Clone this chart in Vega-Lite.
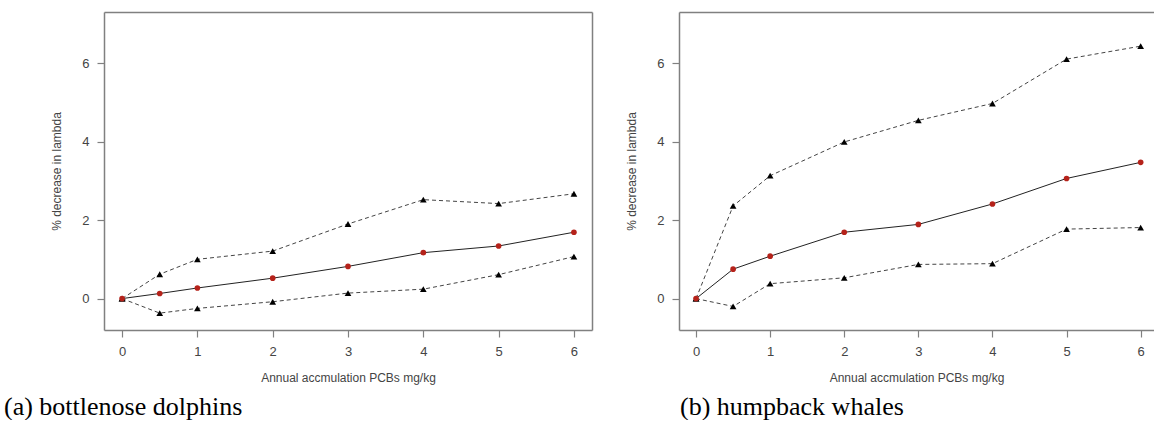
{
  "$schema": "https://vega.github.io/schema/vega-lite/v6.json",
  "background": "white",
  "padding": {"left": 4, "top": 12, "right": 0, "bottom": 0},
  "spacing": 33,
  "datasets": {
    "dolphins": [
      {"x": 0, "series": "mean", "value": 0},
      {"x": 0.5, "series": "mean", "value": 0.13},
      {"x": 1, "series": "mean", "value": 0.27},
      {"x": 2, "series": "mean", "value": 0.52},
      {"x": 3, "series": "mean", "value": 0.82},
      {"x": 4, "series": "mean", "value": 1.17},
      {"x": 5, "series": "mean", "value": 1.34},
      {"x": 6, "series": "mean", "value": 1.69},
      {"x": 0, "series": "upper", "value": 0},
      {"x": 0.5, "series": "upper", "value": 0.62},
      {"x": 1, "series": "upper", "value": 1.0},
      {"x": 2, "series": "upper", "value": 1.21},
      {"x": 3, "series": "upper", "value": 1.9},
      {"x": 4, "series": "upper", "value": 2.52},
      {"x": 5, "series": "upper", "value": 2.42},
      {"x": 6, "series": "upper", "value": 2.67},
      {"x": 0, "series": "lower", "value": 0},
      {"x": 0.5, "series": "lower", "value": -0.37},
      {"x": 1, "series": "lower", "value": -0.25},
      {"x": 2, "series": "lower", "value": -0.08},
      {"x": 3, "series": "lower", "value": 0.14},
      {"x": 4, "series": "lower", "value": 0.24},
      {"x": 5, "series": "lower", "value": 0.61},
      {"x": 6, "series": "lower", "value": 1.07}
    ],
    "whales": [
      {"x": 0, "series": "mean", "value": 0},
      {"x": 0.5, "series": "mean", "value": 0.75},
      {"x": 1, "series": "mean", "value": 1.08},
      {"x": 2, "series": "mean", "value": 1.69},
      {"x": 3, "series": "mean", "value": 1.89},
      {"x": 4, "series": "mean", "value": 2.41},
      {"x": 5, "series": "mean", "value": 3.06},
      {"x": 6, "series": "mean", "value": 3.47},
      {"x": 0, "series": "upper", "value": 0},
      {"x": 0.5, "series": "upper", "value": 2.36},
      {"x": 1, "series": "upper", "value": 3.13},
      {"x": 2, "series": "upper", "value": 3.99},
      {"x": 3, "series": "upper", "value": 4.54},
      {"x": 4, "series": "upper", "value": 4.97},
      {"x": 5, "series": "upper", "value": 6.1},
      {"x": 6, "series": "upper", "value": 6.43},
      {"x": 0, "series": "lower", "value": 0},
      {"x": 0.5, "series": "lower", "value": -0.2},
      {"x": 1, "series": "lower", "value": 0.38},
      {"x": 2, "series": "lower", "value": 0.53},
      {"x": 3, "series": "lower", "value": 0.87},
      {"x": 4, "series": "lower", "value": 0.89},
      {"x": 5, "series": "lower", "value": 1.77},
      {"x": 6, "series": "lower", "value": 1.81}
    ]
  },
  "config": {
    "view": {"stroke": null},
    "font": "Liberation Sans",
    "axis": {
      "grid": false,
      "domainColor": "#808080",
      "domainWidth": 1.5,
      "tickColor": "#808080",
      "tickWidth": 1.2,
      "tickSize": 7,
      "labelColor": "#444",
      "labelFont": "Liberation Sans",
      "labelFontSize": 13,
      "titleFont": "Liberation Sans",
      "titleFontSize": 12,
      "titleFontWeight": "normal",
      "titleColor": "#444"
    }
  },
  "hconcat": [
    {
      "width": 488,
      "height": 318,
      "data": {"name": "dolphins"},
      "title": {"text": "(a) bottlenose dolphins", "orient": "bottom", "anchor": "start", "frame": "group", "dx": -100, "offset": 11, "font": "Liberation Serif", "fontSize": 26, "fontWeight": "normal", "color": "#000"},
      "resolve": {"axis": {"x": "independent", "y": "independent"}},
      "layer": [
        {
          "transform": [{"filter": "datum.series !== 'mean'"}],
          "mark": {"type": "line", "strokeDash": [4, 3], "strokeWidth": 1, "color": "#444"},
          "encoding": {
            "x": {"field": "x", "type": "quantitative", "scale": {"domain": [-0.24, 6.24], "nice": false, "zero": false},
                  "axis": {"orient": "bottom", "values": [0, 1, 2, 3, 4, 5, 6], "labelPadding": 8, "titlePadding": 14, "title": "Annual accmulation PCBs mg/kg"}},
            "y": {"field": "value", "type": "quantitative", "scale": {"domain": [-0.8, 7.3], "nice": false, "zero": false},
                  "axis": {"orient": "left", "values": [0, 2, 4, 6], "labelPadding": 8, "titlePadding": 18, "title": "% decrease in lambda"}},
            "detail": {"field": "series"}
          }
        },
        {
          "transform": [{"filter": "datum.series === 'mean'"}],
          "mark": {"type": "line", "strokeWidth": 1, "color": "#222"},
          "encoding": {
            "x": {"field": "x", "type": "quantitative", "axis": null},
            "y": {"field": "value", "type": "quantitative", "axis": null}
          }
        },
        {
          "transform": [{"filter": "datum.series !== 'mean'"}],
          "mark": {"type": "point", "shape": "triangle-up", "filled": true, "size": 45, "color": "#000", "opacity": 1},
          "encoding": {
            "x": {"field": "x", "type": "quantitative", "axis": null},
            "y": {"field": "value", "type": "quantitative", "axis": null}
          }
        },
        {
          "transform": [{"filter": "datum.series === 'mean'"}],
          "mark": {"type": "circle", "size": 32, "color": "#b5221a", "opacity": 1},
          "encoding": {
            "x": {"field": "x", "type": "quantitative", "axis": {"orient": "top", "labels": false, "ticks": false, "title": null, "domain": true}},
            "y": {"field": "value", "type": "quantitative", "axis": {"orient": "right", "labels": false, "ticks": false, "title": null, "domain": true}}
          }
        }
      ]
    },
    {
      "width": 475,
      "height": 318,
      "data": {"name": "whales"},
      "title": {"text": "(b) humpback whales", "orient": "bottom", "anchor": "start", "frame": "group", "dx": 1, "offset": 11, "font": "Liberation Serif", "fontSize": 26, "fontWeight": "normal", "color": "#000"},
      "resolve": {"axis": {"x": "independent", "y": "independent"}},
      "layer": [
        {
          "transform": [{"filter": "datum.series !== 'mean'"}],
          "mark": {"type": "line", "strokeDash": [4, 3], "strokeWidth": 1, "color": "#444"},
          "encoding": {
            "x": {"field": "x", "type": "quantitative", "scale": {"domain": [-0.23, 6.18], "nice": false, "zero": false},
                  "axis": {"orient": "bottom", "values": [0, 1, 2, 3, 4, 5, 6], "labelPadding": 8, "titlePadding": 14, "title": "Annual accmulation PCBs mg/kg"}},
            "y": {"field": "value", "type": "quantitative", "scale": {"domain": [-0.8, 7.3], "nice": false, "zero": false},
                  "axis": {"orient": "left", "values": [0, 2, 4, 6], "labelPadding": 8, "titlePadding": 18, "title": "% decrease in lambda"}},
            "detail": {"field": "series"}
          }
        },
        {
          "transform": [{"filter": "datum.series === 'mean'"}],
          "mark": {"type": "line", "strokeWidth": 1, "color": "#222"},
          "encoding": {
            "x": {"field": "x", "type": "quantitative", "axis": null},
            "y": {"field": "value", "type": "quantitative", "axis": null}
          }
        },
        {
          "transform": [{"filter": "datum.series !== 'mean'"}],
          "mark": {"type": "point", "shape": "triangle-up", "filled": true, "size": 45, "color": "#000", "opacity": 1},
          "encoding": {
            "x": {"field": "x", "type": "quantitative", "axis": null},
            "y": {"field": "value", "type": "quantitative", "axis": null}
          }
        },
        {
          "transform": [{"filter": "datum.series === 'mean'"}],
          "mark": {"type": "circle", "size": 32, "color": "#b5221a", "opacity": 1},
          "encoding": {
            "x": {"field": "x", "type": "quantitative", "axis": {"orient": "top", "labels": false, "ticks": false, "title": null, "domain": true}},
            "y": {"field": "value", "type": "quantitative", "axis": null}
          }
        }
      ]
    }
  ]
}
